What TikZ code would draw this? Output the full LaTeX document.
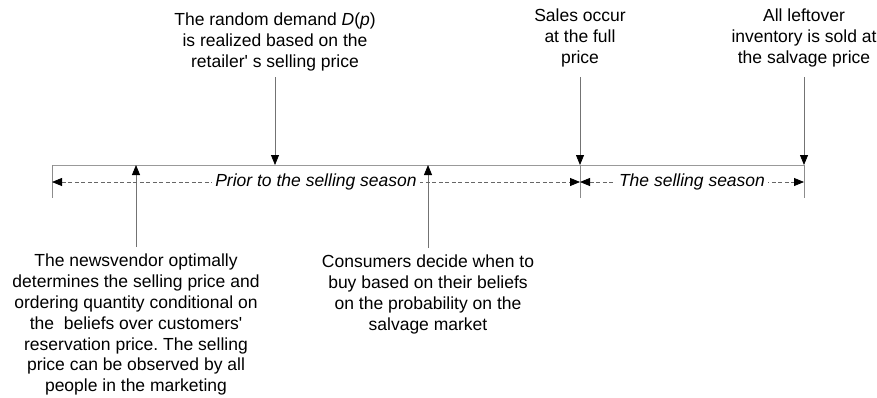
\documentclass[tikz,border=0pt]{standalone}
\usepackage{fontspec}
\setmainfont{Liberation Sans}
\usetikzlibrary{arrows.meta}
\frenchspacing
\begin{document}
\begin{tikzpicture}[x=1pt,y=-1pt,
  every node/.style={inner sep=0pt, align=center, font=\fontsize{17.5}{20.8}\selectfont},
  note/.style={anchor=north},
  season/.style={fill=white, inner sep=3pt, font=\fontsize{17.5}{20.8}\selectfont\itshape},
  tip/.tip={Triangle[length=10pt,width=8pt,color=black]},
  event/.style={draw=black!55, line width=0.8pt, -tip},
  timeline/.style={draw=black!40, line width=1pt},
  tick/.style={draw=black!45, line width=0.9pt},
  span/.style={draw=black!60, dash pattern=on 4pt off 2.5pt, line width=0.8pt, tip-tip}
]
\useasboundingbox (0,0) rectangle (877,397);

% points on the time line
\coordinate (L) at (52,165);
\coordinate (A) at (136,165);
\coordinate (B) at (275,165);
\coordinate (C) at (428,165);
\coordinate (S) at (580,165);
\coordinate (R) at (804,165);
\coordinate (Lb) at (52,198);
\coordinate (Sb) at (580,198);
\coordinate (Rb) at (804,198);
\coordinate (Ld) at (52,182);
\coordinate (Sd) at (580,182);
\coordinate (Rd) at (804,182);

% event descriptions
\node[note] (demand) at (275,13) {The random demand \textit{D}(\textit{p})\\is realized based on the\\retailer\textquotesingle\ s selling price};
\node[note] (sales) at (580,9) {Sales occur\\at the full\\price};
\node[note] (salvage) at (804,9) {All leftover\\inventory is sold at\\the salvage price};
\node[note] (vendor) at (136,254) {The newsvendor optimally\\determines the selling price and\\ordering quantity conditional on\\the~ beliefs over customers\textquotesingle\\reservation price. The selling\\price can be observed by all\\people in the marketing};
\node[note] (consumers) at (428,255) {Consumers decide when to\\buy based on their beliefs\\on the probability on the\\salvage market};

% time line and ticks
\draw[timeline] (L) -- (R);
\draw[tick] (L) -- (Lb);
\draw[tick] (S) -- (Sb);
\draw[tick] (R) -- (Rb);

% event arrows
\draw[event, shorten <=6pt] (demand) -- (B);
\draw[event, shorten <=10pt] (sales) -- (S);
\draw[event, shorten <=10pt] (salvage) -- (R);
\draw[event, shorten <=7pt] (vendor) -- (A);
\draw[event, shorten <=7pt] (consumers) -- (C);

% season spans
\draw[span] (Ld) -- node[season] (prior) {Prior to the selling season} (Sd);
\draw[span] (Sd) -- node[season] (selling) {The selling season} (Rd);
\end{tikzpicture}
\end{document}
